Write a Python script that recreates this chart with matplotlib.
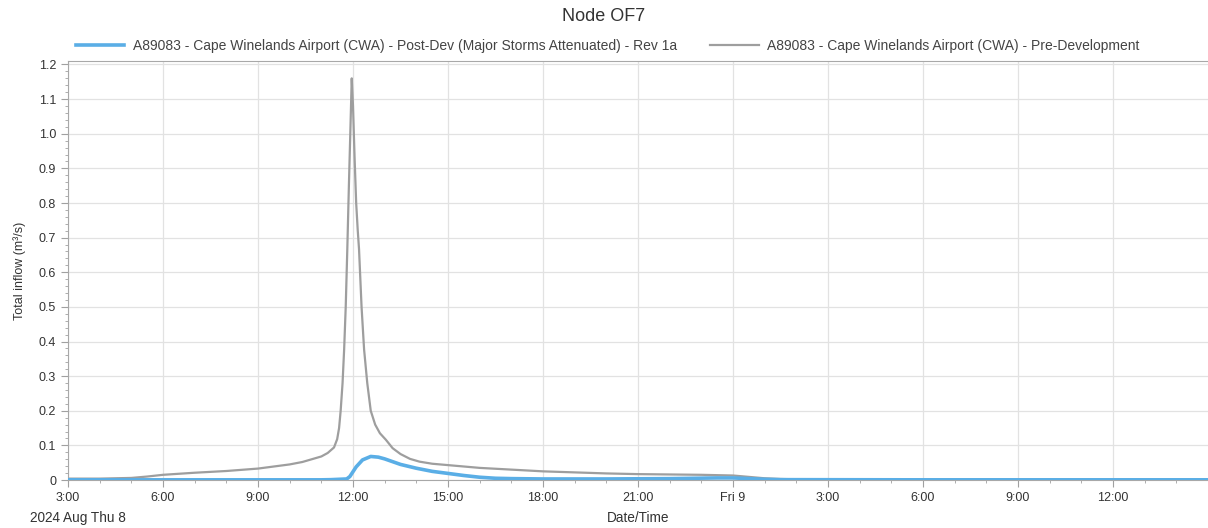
import numpy as np
import matplotlib
matplotlib.use("Agg")
import matplotlib.pyplot as plt
from matplotlib.ticker import MultipleLocator, FixedLocator

plt.rcParams['font.family'] = ['Liberation Sans', 'DejaVu Sans']

# hours counted from midnight of Thu 8 Aug 2024
pre_hours = [3, 4, 5, 5.5, 6, 7, 8, 9, 10, 10.4, 11, 11.2, 11.4, 11.5, 11.56, 11.61,
             11.67, 11.72, 11.77, 11.82, 11.87, 11.92, 11.96, 12.0, 12.05, 12.1, 12.15,
             12.19, 12.27, 12.35, 12.45, 12.56, 12.7, 12.85, 13.04, 13.25, 13.5, 13.8,
             14.1, 14.5, 15, 16, 17, 18, 19, 20, 21, 22, 23, 24, 24.5, 25, 25.5, 26,
             30, 35, 39]
pre_flow = [0.004, 0.004, 0.006, 0.010, 0.015, 0.021, 0.026, 0.033, 0.045, 0.052, 0.068,
            0.078, 0.094, 0.118, 0.15, 0.20, 0.28, 0.377, 0.50, 0.667, 0.85, 1.02, 1.16,
            1.08, 0.93, 0.80, 0.72, 0.667, 0.50, 0.377, 0.28, 0.20, 0.16, 0.135, 0.116,
            0.092, 0.075, 0.061, 0.053, 0.047, 0.043, 0.035, 0.030, 0.025, 0.022, 0.019,
            0.017, 0.016, 0.015, 0.013, 0.009, 0.005, 0.003, 0.002,
            0.002, 0.002, 0.002]

post_hours = [3, 11, 11.3, 11.8, 11.9, 12.1, 12.3, 12.56, 12.8, 13, 13.5, 14, 14.5, 15,
              15.5, 16, 16.5, 17, 18, 20, 22, 23.5, 24, 24.5, 25, 25.5, 30, 39]
post_flow = [0.0005, 0.0005, 0.001, 0.003, 0.01, 0.038, 0.058, 0.068, 0.066, 0.061,
             0.045, 0.034, 0.025, 0.019, 0.013, 0.008, 0.005, 0.004, 0.003, 0.003,
             0.004, 0.006, 0.006, 0.004, 0.002, 0.001, 0.0005, 0.0005]

tick_hours = [3, 6, 9, 12, 15, 18, 21, 24, 27, 30, 33, 36]
tick_labels = ['3:00', '6:00', '9:00', '12:00', '15:00', '18:00', '21:00', 'Fri 9',
               '3:00', '6:00', '9:00', '12:00']

post_label = 'A89083 - Cape Winelands Airport (CWA) - Post-Dev (Major Storms Attenuated) - Rev 1a'
pre_label = 'A89083 - Cape Winelands Airport (CWA) - Pre-Development'

fig = plt.figure(figsize=(12.08, 5.28), dpi=100)
ax = fig.add_axes([0.0563, 0.0909, 0.9437, 0.7935])

ax.plot(post_hours, post_flow, color='#5aaee6', lw=2.6, label=post_label, zorder=3)
ax.plot(pre_hours, pre_flow, color='#9e9e9e', lw=1.6, label=pre_label, zorder=2)

ax.set_xlim(3, 39)
ax.set_ylim(0, 1.21)
ax.xaxis.set_major_locator(FixedLocator(tick_hours))
ax.set_xticklabels(tick_labels)
ax.xaxis.set_minor_locator(MultipleLocator(1))
ax.yaxis.set_major_locator(MultipleLocator(0.1))
ax.yaxis.set_minor_locator(MultipleLocator(0.02))
ax.set_yticklabels(['0' if abs(v) < 1e-9 else f'{v:.1f}' for v in ax.get_yticks()])

ax.grid(True, which='major', color='#e2e2e2', lw=0.9)
for s in ['left', 'bottom', 'top']:
    ax.spines[s].set_color('#a8a8a8')
ax.spines['right'].set_visible(False)
ax.tick_params(which='both', colors='#a0a0a0', labelcolor='#333333', labelsize=9)
ax.tick_params(which='major', length=5)
ax.tick_params(which='minor', length=2)

ax.set_ylabel('Total inflow (m\u00b3/s)', fontsize=9, color='#333333', labelpad=9)
fig.text(0.528, 0.012, 'Date/Time', fontsize=9.8, color='#333333', ha='center')
fig.text(0.025, 0.012, '2024 Aug Thu 8', fontsize=9.8, color='#333333', ha='left')

fig.suptitle('Node OF7', fontsize=13, color='#333333', y=0.985)
fig.legend(loc='center', bbox_to_anchor=(0.503, 0.913), ncol=2, frameon=False,
           fontsize=10, handlelength=3.5, handletextpad=0.6, columnspacing=2.4,
           labelcolor='#444444')

fig.savefig('out.png', dpi=100)
